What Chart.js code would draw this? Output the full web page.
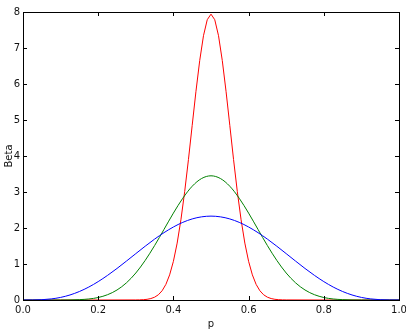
<!DOCTYPE html>
<html>
<head>
<meta charset="utf-8">
<script src="https://cdn.jsdelivr.net/npm/chart.js@4/dist/chart.umd.min.js"></script>
<style>
  html, body { margin: 0; padding: 0; background: #fff; }
  #wrap { width: 406px; height: 330px; }
</style>
</head>
<body>
<div id="wrap"><canvas id="betaChart" width="406" height="330"></canvas></div>
<script>
// valores
const pWide = [0, 0.025, 0.05, 0.075, 0.1, 0.125, 0.15, 0.175, 0.2, 0.225, 0.25, 0.275, 0.3, 0.325, 0.35, 0.375, 0.4, 0.425, 0.45, 0.475, 0.5,
  0.525, 0.55, 0.575, 0.6, 0.625, 0.65, 0.675, 0.7, 0.725, 0.75, 0.775, 0.8, 0.825, 0.85, 0.875, 0.9, 0.925, 0.95, 0.975, 1];
const betaBlue = [0, 0.001, 0.008, 0.030, 0.072, 0.140, 0.236, 0.360, 0.511, 0.685, 0.876, 1.080, 1.288, 1.494, 1.691, 1.871, 2.028, 2.157, 2.252, 2.310, 2.330,
  2.310, 2.252, 2.157, 2.028, 1.871, 1.691, 1.494, 1.288, 1.080, 0.876, 0.685, 0.511, 0.360, 0.236, 0.140, 0.072, 0.030, 0.008, 0.001, 0];
const betaGreen = [0, 0, 0, 0, 0, 0.002, 0.010, 0.028, 0.069, 0.148, 0.278, 0.476, 0.750, 1.100, 1.512, 1.961, 2.414, 2.827, 3.160, 3.375, 3.450,
  3.375, 3.160, 2.827, 2.414, 1.961, 1.512, 1.100, 0.750, 0.476, 0.278, 0.148, 0.069, 0.028, 0.010, 0.002, 0, 0, 0, 0, 0];

const pNarrow = [0, 0.1, 0.2, 0.30, 0.31, 0.32, 0.33, 0.34, 0.35, 0.36, 0.37, 0.38, 0.39, 0.40, 0.41, 0.42, 0.43, 0.44, 0.45, 0.46, 0.47, 0.48, 0.49, 0.50,
  0.51, 0.52, 0.53, 0.54, 0.55, 0.56, 0.57, 0.58, 0.59, 0.60, 0.61, 0.62, 0.63, 0.64, 0.65, 0.66, 0.67, 0.68, 0.69, 0.70, 0.8, 0.9, 1.0];
const betaRed = [0, 0, 0, 0.002, 0.004, 0.009, 0.019, 0.040, 0.078, 0.145, 0.257, 0.434, 0.698, 1.074, 1.581, 2.228, 3.010, 3.901, 4.852, 5.797, 6.654, 7.341, 7.786, 7.940,
  7.786, 7.341, 6.654, 5.797, 4.852, 3.901, 3.010, 2.228, 1.581, 1.074, 0.698, 0.434, 0.257, 0.145, 0.078, 0.040, 0.019, 0.009, 0.004, 0.002, 0, 0, 0];

const xTicks = [0, 0.2, 0.4, 0.6, 0.8, 1.0];
const yTicks = [0, 1, 2, 3, 4, 5, 6, 7, 8];

const toPoints = (xs, ys) => xs.map((x, i) => ({ x: x, y: ys[i] }));

// marco y marcas de escala hacia adentro (estilo matplotlib)
const marco = {
  id: "marco",
  afterDatasetsDraw(chart) {
    const { ctx, chartArea: a, scales } = chart;
    const L = 4;
    ctx.save();
    ctx.strokeStyle = "#000";
    ctx.lineWidth = 1;
    ctx.beginPath();
    xTicks.forEach((v) => {
      const px = Math.round(scales.x.getPixelForValue(v)) + 0.5;
      ctx.moveTo(px, a.bottom); ctx.lineTo(px, a.bottom - L);
      ctx.moveTo(px, a.top); ctx.lineTo(px, a.top + L);
    });
    yTicks.forEach((v) => {
      const py = Math.round(scales.y.getPixelForValue(v)) + 0.5;
      ctx.moveTo(a.left, py); ctx.lineTo(a.left + L, py);
      ctx.moveTo(a.right, py); ctx.lineTo(a.right - L, py);
    });
    ctx.stroke();
    ctx.strokeRect(Math.round(a.left) + 0.5, Math.round(a.top) + 0.5, Math.round(a.right - a.left), Math.round(a.bottom - a.top));
    ctx.restore();
  },
};

const fuente = { family: "DejaVu Sans", size: 10 };

new Chart(document.getElementById("betaChart"), {
  type: "line",
  data: {
    datasets: [
      { label: "a", data: toPoints(pWide, betaBlue), borderColor: "#0000ff", borderWidth: 1, pointRadius: 0, cubicInterpolationMode: "monotone", fill: false },
      { label: "b", data: toPoints(pWide, betaGreen), borderColor: "#008000", borderWidth: 1, pointRadius: 0, cubicInterpolationMode: "monotone", fill: false },
      { label: "c", data: toPoints(pNarrow, betaRed), borderColor: "#ff0000", borderWidth: 1, pointRadius: 0, tension: 0, fill: false },
    ],
  },
  options: {
    responsive: false,
    animation: false,
    layout: { padding: { left: 3, top: 12, right: 7, bottom: 0 } },
    plugins: { legend: { display: false }, tooltip: { enabled: false } },
    scales: {
      x: {
        type: "linear",
        min: 0,
        max: 1,
        afterBuildTicks: (s) => { s.ticks = xTicks.map((v) => ({ value: v })); },
        ticks: { font: fuente, color: "#111", padding: 4, maxRotation: 0, callback: (v) => v.toFixed(1) },
        grid: { display: false, drawTicks: false },
        border: { display: false },
        title: { display: true, text: "p", font: fuente, color: "#111", padding: 0 },
        afterFit: (s) => { s.height = 30; s.paddingLeft = 0; s.paddingRight = 0; },
      },
      y: {
        type: "linear",
        min: 0,
        max: 8,
        afterBuildTicks: (s) => { s.ticks = yTicks.map((v) => ({ value: v })); },
        ticks: { font: fuente, color: "#111", padding: 3 },
        grid: { display: false, drawTicks: false },
        border: { display: false },
        title: { display: true, text: "Beta", font: fuente, color: "#111", padding: 0 },
        afterFit: (s) => { s.width = 20; s.paddingTop = 0; s.paddingBottom = 0; },
      },
    },
  },
  plugins: [marco],
});
</script>
</body>
</html>
